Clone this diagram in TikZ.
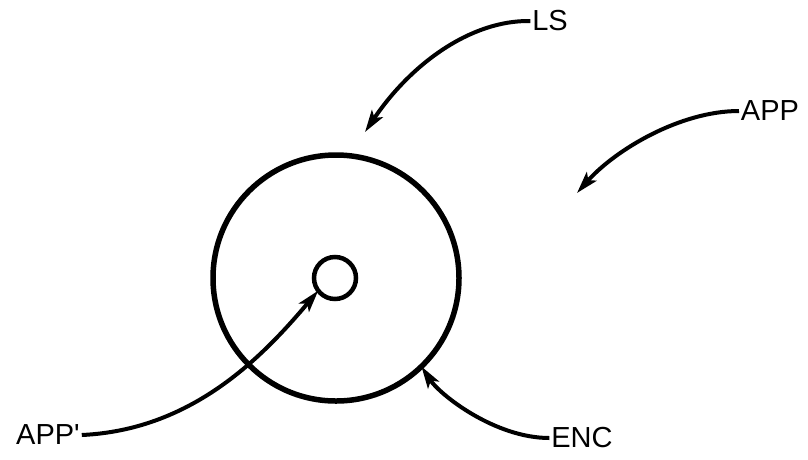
\documentclass[tikz,border=0pt]{standalone}
\usepackage{fontspec}
\setmainfont{Liberation Sans}
\usetikzlibrary{arrows.meta}
\begin{document}
\begin{tikzpicture}[x=1pt,y=-1pt,
  lbl/.style={font=\fontsize{29}{30}\selectfont, inner sep=2pt, outer sep=0pt, anchor=center},
  conn/.style={line width=4pt, -{Stealth[length=22pt,width=13pt,inset=5pt]}},
  ring/.style={circle, draw, inner sep=0pt, outer sep=0pt}]
\useasboundingbox (0,0) rectangle (808,459);
\node[ring, line width=5.5pt, minimum size=246pt] (outer) at (336,278) {};
\node[ring, line width=4.5pt, minimum size=42pt] (inner) at (335,278) {};
\node[lbl] (ls) at (550,21) {LS};
\node[lbl] (app) at (770,111) {APP};
\node[lbl] (appp) at (48,435) {APP\textquotesingle};
\node[lbl] (enc) at (582,438) {ENC};
\coordinate (lstip) at (365,132);
\coordinate (apptip) at (577,193);
\draw[conn] (ls.west) .. controls (470,20) and (410,65) .. (lstip);
\draw[conn] (app.west) .. controls (680,111) and (615,150) .. (apptip);
\draw[conn] (appp.east) .. controls (190,430) and (260,360) .. (inner.217);
\draw[conn] (enc.west) .. controls (495,438) and (440,395) .. (outer.314);
\end{tikzpicture}
\end{document}
